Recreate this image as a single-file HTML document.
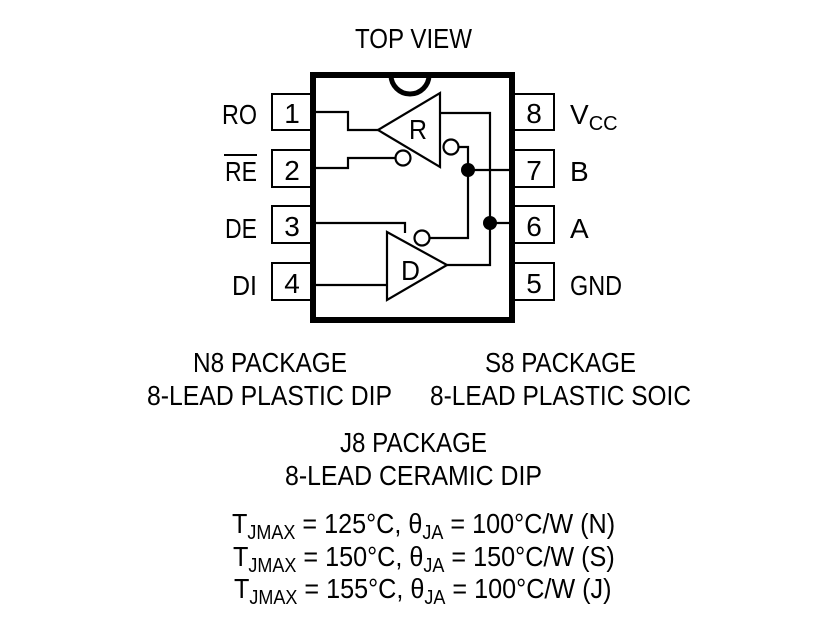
<!DOCTYPE html>
<html><head><style>body{margin:0;background:#fff}svg{display:block}</style></head><body>
<svg width="815" height="617" viewBox="0 0 815 617" xmlns="http://www.w3.org/2000/svg" font-family="'Liberation Sans',sans-serif" font-size="28" fill="#000">
<g fill="none" stroke="#000" stroke-width="2">
<rect x="272" y="94" width="40" height="36"/><rect x="272" y="150" width="40" height="37"/><rect x="272" y="206" width="40" height="37"/><rect x="272" y="263" width="40" height="37"/>
<rect x="513" y="94" width="41" height="36"/><rect x="513" y="150" width="41" height="37"/><rect x="513" y="206" width="41" height="37"/><rect x="513" y="263" width="41" height="37"/>
</g>
<rect x="313" y="75" width="199" height="245" fill="#fff" stroke="#000" stroke-width="6"/>
<path d="M391 75 A19 19 0 0 0 429 75" fill="none" stroke="#000" stroke-width="5"/>
<g fill="none" stroke="#000" stroke-width="2.2">
<path d="M316 112 H348 V130 H378"/>
<path d="M316 168 H348 V158 H395"/>
<path d="M378 130 L440 93 V167 Z"/>
<path d="M387 232 V300 L447 265 Z"/>
<path d="M440 113 H490 V265 H447"/>
<path d="M458 147 H468 V238 H430"/>
<path d="M468 170 H513"/><path d="M490 223 H513"/>
<path d="M316 223 H405 V233"/>
<path d="M316 285 H387"/>
<circle cx="403" cy="158" r="7.5" fill="#fff"/>
<circle cx="451" cy="147" r="7.5" fill="#fff"/>
<circle cx="422" cy="238" r="7.5" fill="#fff"/>
</g>
<circle cx="468" cy="170" r="7"/><circle cx="490" cy="223" r="7"/>
<text x="409" y="139" textLength="18" lengthAdjust="spacingAndGlyphs">R</text>
<text x="401" y="280" textLength="19" lengthAdjust="spacingAndGlyphs">D</text>
<g text-anchor="middle">
<text x="292" y="123">1</text><text x="292" y="180">2</text><text x="292" y="236">3</text><text x="292" y="293">4</text>
<text x="534" y="123">8</text><text x="534" y="180">7</text><text x="534" y="236">6</text><text x="534" y="293">5</text>
</g>
<text x="222" y="124" textLength="35" lengthAdjust="spacingAndGlyphs">RO</text>
<text x="225" y="181" textLength="32" lengthAdjust="spacingAndGlyphs">RE</text>
<text x="225" y="238" textLength="32" lengthAdjust="spacingAndGlyphs">DE</text>
<text x="232" y="295" textLength="25" lengthAdjust="spacingAndGlyphs">DI</text>
<line x1="224" y1="155" x2="257" y2="155" stroke="#000" stroke-width="2"/>
<text x="570" y="124">V<tspan font-size="20" dy="6">CC</tspan></text>
<text x="570" y="181">B</text><text x="570" y="238">A</text>
<text x="570" y="295" textLength="52" lengthAdjust="spacingAndGlyphs">GND</text>
<text x="355" y="48" textLength="117" lengthAdjust="spacingAndGlyphs">TOP VIEW</text>
<text x="193" y="372" textLength="154" lengthAdjust="spacingAndGlyphs">N8 PACKAGE</text>
<text x="147" y="405" textLength="245" lengthAdjust="spacingAndGlyphs">8-LEAD PLASTIC DIP</text>
<text x="485" y="372" textLength="151" lengthAdjust="spacingAndGlyphs">S8 PACKAGE</text>
<text x="430" y="405" textLength="261" lengthAdjust="spacingAndGlyphs">8-LEAD PLASTIC SOIC</text>
<text x="340" y="452" textLength="147" lengthAdjust="spacingAndGlyphs">J8 PACKAGE</text>
<text x="285" y="485" textLength="257" lengthAdjust="spacingAndGlyphs">8-LEAD CERAMIC DIP</text>
<g transform="translate(232,533) scale(0.9,1)"><text x="0" y="0">T<tspan font-size="20" dy="6">JMAX</tspan><tspan dy="-6"> = 125°C, θ</tspan><tspan font-size="20" dy="6">JA</tspan><tspan dy="-6"> = 100°C/W (N)</tspan></text></g>
<g transform="translate(233,566) scale(0.9,1)"><text x="0" y="0">T<tspan font-size="20" dy="6">JMAX</tspan><tspan dy="-6"> = 150°C, θ</tspan><tspan font-size="20" dy="6">JA</tspan><tspan dy="-6"> = 150°C/W (S)</tspan></text></g>
<g transform="translate(234,598) scale(0.9,1)"><text x="0" y="0">T<tspan font-size="20" dy="6">JMAX</tspan><tspan dy="-6"> = 155°C, θ</tspan><tspan font-size="20" dy="6">JA</tspan><tspan dy="-6"> = 100°C/W (J)</tspan></text></g>
</svg>
</body></html>
